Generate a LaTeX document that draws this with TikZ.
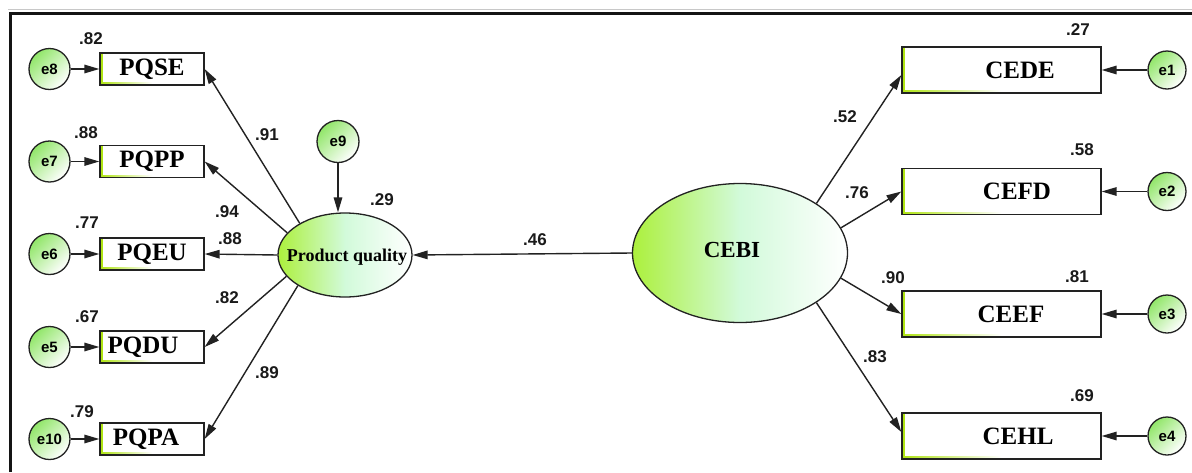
\documentclass[tikz,border=0pt]{standalone}
\usepackage{fontspec}
\setmainfont{Liberation Serif}
\newfontfamily\coeffont{Liberation Sans}
\usetikzlibrary{arrows.meta,shapes.geometric}

\definecolor{linegray}{HTML}{222222}
\definecolor{framecol}{HTML}{141414}
\definecolor{shadowcol}{HTML}{C8C8C8}
\definecolor{errgreen}{RGB}{145,230,105}
\definecolor{latleft}{RGB}{172,240,60}
\definecolor{latmid}{RGB}{210,250,218}
\definecolor{stripcol}{RGB}{175,228,20}
\definecolor{numcol}{HTML}{1A1A1A}

\tikzset{
  indicator/.style={rectangle, draw=linegray, line width=1.3pt, fill=white,
    inner sep=0pt, minimum width=104pt, minimum height=32pt,
    font=\bfseries\fontsize{25}{25}\selectfont,
    path picture={
      \fill[stripcol] (path picture bounding box.south west)
        rectangle ([xshift=2.5pt]path picture bounding box.north west);
      \shade[left color=stripcol, right color=white]
        (path picture bounding box.south west)
        rectangle ([yshift=2.5pt]path picture bounding box.south);
    }},
  wideind/.style={indicator, minimum width=199pt, minimum height=46pt},
  errterm/.style={circle, draw=linegray, line width=1.3pt, inner sep=0pt,
    minimum size=41pt, top color=errgreen, bottom color=white, shading angle=45,
    font=\coeffont\bfseries\fontsize{15}{15}\selectfont},
  latent/.style={ellipse, draw=linegray, line width=1.3pt, inner sep=0pt,
    left color=latleft, right color=white, middle color=latmid},
  coef/.style={inner sep=0pt, text=numcol,
    font=\coeffont\bfseries\fontsize{17}{17}\selectfont},
  link/.style={draw=linegray, line width=1.4pt,
    -{Triangle[length=15pt,width=8.5pt]}},
}

\begin{document}
\begin{tikzpicture}[x=1pt,y=-1pt]
\useasboundingbox (0,0) rectangle (1192,472);
\fill[white] (0,0) rectangle (1192,472);

% frame
\draw[shadowcol, line width=1pt] (8,9.5) -- (1192,9.5);
\draw[framecol, line width=3pt] (10,472) -- (10,13) -- (1192,13);

% latent variables
\node[latent, minimum width=134pt, minimum height=84pt,
  label={[font=\bfseries\fontsize{18}{18}\selectfont, yshift=-2pt, xshift=2pt]center:Product quality}]
  (pq) at (345,255) {};
\node[latent, minimum width=215pt, minimum height=139pt,
  label={[font=\bfseries\fontsize{23}{23}\selectfont, xshift=-8pt, yshift=3pt]center:CEBI}]
  (cebi) at (740,253) {};

% indicators of product quality
\node[indicator] (pqse) at (152,69) {PQSE};
\node[indicator] (pqpp) at (152,161.5) {PQPP};
\node[indicator] (pqeu) at (152,254) {PQEU};
\node[indicator] (pqdu) at (152,347) {\hspace*{-18pt}PQDU};
\node[indicator] (pqpa) at (152,439) {\hspace*{-12pt}PQPA};

% indicators of CEBI
\node[wideind] (cede) at (1001.5,70) {\hspace*{37pt}CEDE};
\node[wideind] (cefd) at (1001.5,191.5) {\hspace*{31pt}CEFD};
\node[wideind] (ceef) at (1001.5,314) {\hspace*{19pt}CEEF};
\node[wideind] (cehl) at (1001.5,436) {\hspace*{33pt}CEHL};

% error terms
\node[errterm] (e8) at (49.5,69) {e8};
\node[errterm] (e7) at (49.5,161.5) {e7};
\node[errterm] (e6) at (49.5,254) {e6};
\node[errterm] (e5) at (49.5,347) {e5};
\node[errterm] (e10) at (49.5,439) {e10};
\node[errterm, minimum size=42pt] (e9) at (338,141.5) {e9};
\node[errterm, minimum size=38pt] (e1) at (1167,70) {e1};
\node[errterm, minimum size=38pt] (e2) at (1167,191.5) {e2};
\node[errterm, minimum size=38pt] (e3) at (1167,314) {e3};
\node[errterm, minimum size=38pt] (e4) at (1167,436) {e4};

% error arrows
\draw[link] (e8) -- (pqse);
\draw[link] (e7) -- (pqpp);
\draw[link] (e6) -- (pqeu);
\draw[link] (e5) -- (pqdu);
\draw[link] (e10) -- (pqpa);
\draw[link] (e1) -- (cede);
\draw[link] (e2) -- (cefd);
\draw[link] (e3) -- (ceef);
\draw[link] (e4) -- (cehl);
\draw[link] (e9.south) -- (pq.north -| e9.south);

% loadings
\draw[link] (pq.145.5) -- (pqse.east);
\draw[link] (pq.159.3) -- (pqpp.east);
\draw[link] (pq.west) -- (pqeu.east);
\draw[link] (pq.200) -- (pqdu.east);
\draw[link] (pq.213.7) -- (pqpa.east);
\draw[link] (cebi.33) -- ([yshift=-5pt]cede.west);
\draw[link] (cebi.14) -- (cefd.west);
\draw[link] (cebi.-14) -- (ceef.west);
\draw[link] (cebi.-33) -- ([yshift=4pt]cehl.west);

% structural path
\draw[link] (cebi.west) -- (pq.east);

% coefficients
\node[coef] (r82) at (91,39) {.82};
\node[coef] (r88) at (86,133) {.88};
\node[coef] (r77) at (87,223) {.77};
\node[coef] (r67) at (87,317) {.67};
\node[coef] (r79) at (82,412) {.79};
\node[coef] (l91) at (267,135) {.91};
\node[coef] (l94) at (227,212) {.94};
\node[coef] (l88) at (230,239) {.88};
\node[coef] (l82) at (227,298) {.82};
\node[coef] (l89) at (267,373) {.89};
\node[coef] (r29) at (382,200) {.29};
\node[coef] (b46) at (535,240) {.46};
\node[coef] (l52) at (845,117) {.52};
\node[coef] (l76) at (857,193) {.76};
\node[coef] (l90) at (893,278) {.90};
\node[coef] (l83) at (875,357) {.83};
\node[coef] (r27) at (1078,30) {.27};
\node[coef] (r58) at (1082,150) {.58};
\node[coef] (r81) at (1077,277) {.81};
\node[coef] (r69) at (1082,396) {.69};
\end{tikzpicture}
\end{document}
